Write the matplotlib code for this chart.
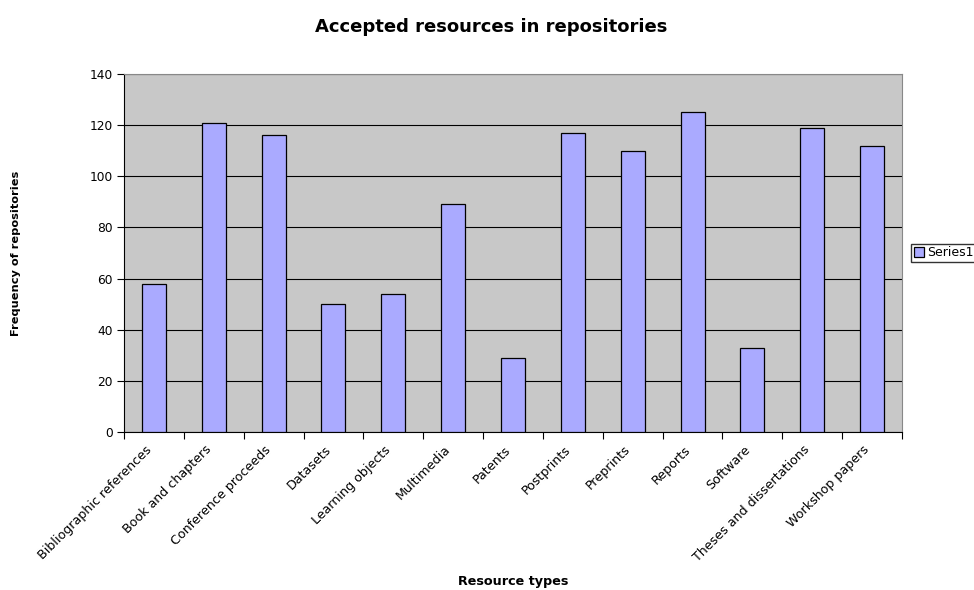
import matplotlib
matplotlib.use("Agg")
import matplotlib.pyplot as plt
import matplotlib.transforms as mtransforms
import numpy as np

categories = [
    "Bibliographic references", "Book and chapters", "Conference proceeds",
    "Datasets", "Learning objects", "Multimedia", "Patents", "Postprints",
    "Preprints", "Reports", "Software", "Theses and dissertations",
    "Workshop papers",
]
series1 = [58, 121, 116, 50, 54, 89, 29, 117, 110, 125, 33, 119, 112]
y_ticks = [0, 20, 40, 60, 80, 100, 120, 140]

plt.rcParams["font.family"] = ["DejaVu Sans"]

fig = plt.figure(figsize=(9.74, 5.90), dpi=100)
ax = fig.add_axes([124 / 974, 1 - 432 / 590, (902 - 124) / 974, (432 - 74) / 590])

x = np.arange(len(categories))
ax.bar(x, series1, width=0.4, color="#AAAAFF", edgecolor="black",
       linewidth=0.9, label="Series1", zorder=3)

ax.set_facecolor("#C8C8C8")
ax.set_xlim(-0.5, len(categories) - 0.5)
ax.set_ylim(0, 140)
ax.set_yticks(y_ticks)
ax.yaxis.grid(True, color="black", linewidth=0.8, zorder=1)
ax.set_axisbelow(True)

# category boundaries carry the tick marks, centers carry the labels
ax.set_xticks(np.arange(len(categories) + 1) - 0.5)
ax.set_xticklabels([])
ax.set_xticks(x, minor=True)
ax.set_xticklabels(categories, minor=True, rotation=45, ha="right",
                   rotation_mode="anchor", fontsize=9.1)
ax.tick_params(axis="x", which="minor", length=0, pad=8)
ax.tick_params(axis="x", which="major", length=5, direction="out", width=0.8)
ax.tick_params(axis="y", length=5, direction="out", width=0.8, labelsize=8.8, pad=3)

shift = mtransforms.ScaledTranslation(-0.09, 0, fig.dpi_scale_trans)
for lbl in ax.get_xticklabels(minor=True):
    lbl.set_transform(lbl.get_transform() + shift)

for side in ("top", "right"):
    ax.spines[side].set_color("#888888")
for side in ("left", "bottom"):
    ax.spines[side].set_color("black")

fig.text(491 / 974, 1 - 27 / 590, "Accepted resources in repositories",
         ha="center", va="center", fontsize=13, fontweight="bold")
fig.text(16 / 974, 1 - 253 / 590, "Frequency of repositories", rotation=90,
         ha="center", va="center", fontsize=8.2, fontweight="bold")
fig.text(513 / 974, 1 - 581 / 590, "Resource types",
         ha="center", va="center", fontsize=9.2, fontweight="bold")

fig.legend(loc="center left", bbox_to_anchor=(911 / 974, 1 - 253 / 590),
           fontsize=9, frameon=True, fancybox=False, edgecolor="black",
           handlelength=0.8, handleheight=0.8, handletextpad=0.3,
           borderpad=0.2, borderaxespad=0)

fig.savefig("out.png", dpi=100)
